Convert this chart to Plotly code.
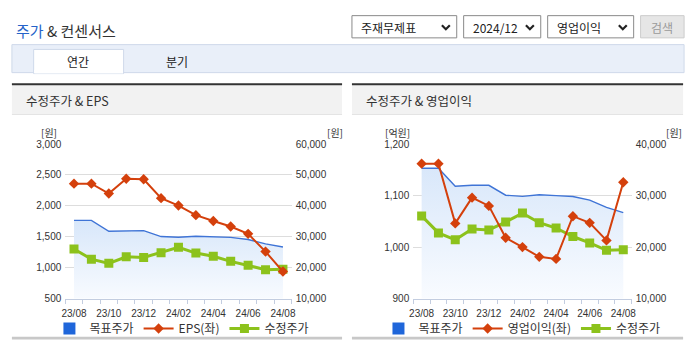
import plotly.graph_objects as go

W, H = 695, 349

# ---- data ----
months = ["23/08", "23/09", "23/10", "23/11", "23/12", "24/01", "24/02",
          "24/03", "24/04", "24/05", "24/06", "24/07", "24/08"]
target_price = [35300, 35300, 31800, 32000, 32000, 30070, 29850,
                30150, 30000, 29820, 29130, 27700, 26690]
adj_price = [26050, 22750, 21400, 23500, 23330, 24870, 26600,
             24730, 23700, 22050, 20800, 19370, 19500]
eps = [2360, 2360, 2200, 2440, 2430, 2125, 2005,
       1850, 1755, 1667, 1547, 1260, 937]
op_income = [1162, 1162, 1046, 1096, 1080, 1018, 1000,
             981, 977, 1060, 1047, 1013, 1126]

label_idx = list(range(0, len(months), 2))
label_txt = [months[i] for i in label_idx]

BLUE_LINE = "#3f74d6"
BLUE_BOX = "#1f66da"
RED = "#d4400c"
GREEN = "#8cc21c"
FONT = "Liberation Sans, Noto Sans CJK KR, sans-serif"
KFONT = "Noto Sans CJK KR, sans-serif"
TXT = "#333333"


def X(px):
    return px / W


def Y(py):
    return 1 - py / H


fig = go.Figure()
idx = list(range(len(months)))


def add_panel(xs, y_price, y_left, left_vals, left_name, legend):
    # price series (right axis) underneath, left-axis series on top
    fig.add_trace(go.Scatter(
        x=idx, y=target_price, xaxis=xs, yaxis=y_price, mode="lines",
        line=dict(color=BLUE_LINE, width=1.4), fill="tozeroy",
        fillgradient=dict(type="vertical", start=10000, stop=36000,
                          colorscale=[[0, "rgba(250,252,255,1)"],
                                      [1, "rgba(216,231,250,1)"]]),
        showlegend=False, hoverinfo="skip"))
    fig.add_trace(go.Scatter(
        x=[None], y=[None], xaxis=xs, yaxis=y_price, mode="markers",
        marker=dict(symbol="square", color=BLUE_BOX, size=12),
        name="목표주가", legend=legend))
    fig.add_trace(go.Scatter(
        x=idx, y=left_vals, xaxis=xs, yaxis=y_left, mode="lines+markers",
        line=dict(color=RED, width=2),
        marker=dict(symbol="diamond", color=RED, size=8),
        name=left_name, legend=legend))
    fig.add_trace(go.Scatter(
        x=idx, y=adj_price, xaxis=xs, yaxis=y_price, mode="lines+markers",
        line=dict(color=GREEN, width=3),
        marker=dict(symbol="square", color=GREEN, size=9),
        name="수정주가", legend=legend))


add_panel("x", "y", "y2", eps, "EPS(좌)", "legend")
add_panel("x2", "y3", "y4", op_income, "영업이익(좌)", "legend2")

tickfont = dict(family=FONT, size=10, color=TXT)
AX_LINE = "#c3cde0"
GRID = "#dddddd"


def xaxis_cfg(x0, x1, anchor):
    return dict(domain=[X(x0), X(x1)], anchor=anchor, range=[-0.5, 12.5],
                tickmode="array", tickvals=label_idx, ticktext=label_txt,
                ticks="", showgrid=False, zeroline=False,
                showline=True, linecolor=AX_LINE, linewidth=1,
                tickfont=tickfont, fixedrange=True, ticklabelstandoff=5,
                minor=dict(tickmode="linear", tick0=-0.5, dtick=1,
                           ticks="outside", ticklen=4, tickcolor=AX_LINE,
                           showgrid=False))


def yaxis_cfg(rng, dtick, anchor, side, overlay=None):
    d = dict(domain=[Y(303), Y(143)], anchor=anchor, range=rng, dtick=dtick,
             tick0=rng[0], side=side, tickfont=tickfont, tickformat=",d",
             showline=False, zeroline=False, ticks="", fixedrange=True,
             showgrid=(overlay is None), gridcolor=GRID, gridwidth=1,
             ticklabelstandoff=3)
    if overlay:
        d["overlaying"] = overlay
    return d


legend_common = dict(orientation="h", xanchor="center", yanchor="middle",
                     font=dict(family=KFONT, size=12, color=TXT),
                     itemwidth=30, bgcolor="rgba(0,0,0,0)", tracegroupgap=0)

fig.update_layout(
    width=W, height=H, margin=dict(l=0, r=0, t=0, b=0),
    paper_bgcolor="white", plot_bgcolor="rgba(0,0,0,0)",
    font=dict(family=FONT, color=TXT),
    xaxis=xaxis_cfg(62, 291, "y"),
    yaxis=yaxis_cfg([10000, 60000], 10000, "x", "right"),
    yaxis2=yaxis_cfg([500, 3000], 500, "x", "left", "y"),
    xaxis2=xaxis_cfg(414, 635, "y3"),
    yaxis3=yaxis_cfg([10000, 40000], 10000, "x2", "right"),
    yaxis4=yaxis_cfg([900, 1200], 100, "x2", "left", "y3"),
    legend=dict(legend_common, x=X(180), y=Y(334)),
    legend2=dict(legend_common, x=X(524), y=Y(334)),
)

shapes = []
ann = []


def rect(x0, y0, x1, y1, fill, line=None, lw=1, layer="below"):
    shapes.append(dict(type="rect", xref="paper", yref="paper",
                       x0=X(x0), x1=X(x1), y0=Y(y1), y1=Y(y0),
                       fillcolor=fill, layer=layer,
                       line=dict(color=line or fill, width=lw if line else 0)))


def text(px, py, s, size=12, color=TXT, anchor="left", family=KFONT):
    ann.append(dict(xref="paper", yref="paper", x=X(px), y=Y(py), text=s,
                    showarrow=False, xanchor=anchor, yanchor="middle",
                    font=dict(family=family, size=size, color=color)))


# page title
ann.append(dict(xref="paper", yref="paper", x=X(10), y=Y(25),
                text="<span style='color:#2563c9'>주가</span> & 컨센서스",
                showarrow=False, xanchor="left", yanchor="middle",
                font=dict(family=KFONT, size=15, color="#333333")))

# selection boxes
for x0, x1, label in [(352, 458, "주재무제표"), (465, 543, "2024/12"),
                      (550, 637, "영업이익")]:
    shapes.append(dict(type="rect", xref="paper", yref="paper",
                       x0=X(x0), x1=X(x1), y0=Y(33), y1=Y(10),
                       fillcolor="white", line=dict(color="#8a8a8a", width=1),
                       layer="below"))
    text(x0 + 7, 22, label, size=12, color="#222222")
    cx = x1 - 11
    shapes.append(dict(type="path", xref="paper", yref="paper",
                       path=f"M {X(cx-4)} {Y(20)} L {X(cx)} {Y(24)} L {X(cx+4)} {Y(20)}",
                       line=dict(color="#222222", width=2.2)))
rect(644, 10, 688, 33, "#e6e6e6", "#cccccc")
text(666, 22, "검색", size=12, color="#9a9a9a", anchor="center")

# tabs
rect(8, 40, 688, 69, "#e9eff9", "#cfd9ea")
rect(30, 45, 121, 70, "white", "#cfd9ea")
rect(30.6, 66, 120.4, 70, "white")
text(75, 57, "연간", size=12, color="#222222", anchor="center")
text(175, 57, "분기", size=12, color="#222222", anchor="center")

# panel frames
for x0, x1, title in [(8, 342, "수정주가 & EPS"), (352, 687, "수정주가 & 영업이익")]:
    rect(x0, 82, x1, 112, "#f2f2f2")
    rect(x0, 80, x1, 82, "#333333")
    rect(x0, 112, x1, 113, "#dddddd")
    rect(x0, 342.5, x1, 345.5, "#c8c8c8")
    text(x0 + 12, 98, title, size=12.5, color="#333333")

text(46, 131, "[원]", size=10, anchor="center")
text(335, 131, "[원]", size=10, anchor="center")
text(398, 131, "[억원]", size=10, anchor="center")
text(678, 131, "[원]", size=10, anchor="center")

fig.update_layout(shapes=shapes, annotations=ann)
fig.write_html("out.html")
